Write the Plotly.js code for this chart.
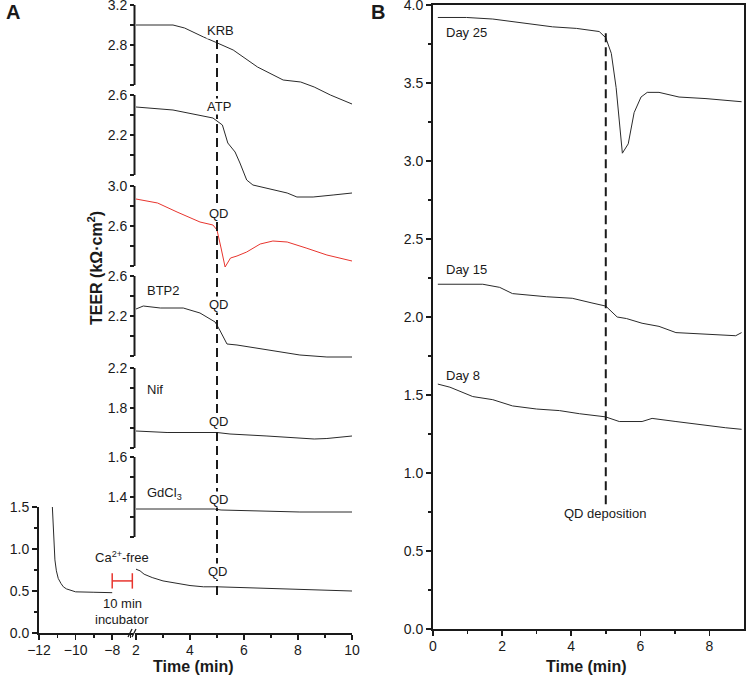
<!DOCTYPE html>
<html><head><meta charset="utf-8">
<script src="https://cdn.plot.ly/plotly-3.0.1.min.js"></script>
<style>html,body{margin:0;padding:0;background:#fff}</style>
</head><body><div id="chart" style="width:746px;height:676px"></div>
<script>
// ---------- Panel A data (time in min, TEER in kΩ·cm²) ----------
const timeKRB=[2,2.8,3.37,3.8,4.1,4.5,4.93,5.6,6.5,7.45,8.1,8.6,9.2,10];
const teerKRB=[3.0,3.0,3.0,2.97,2.93,2.88,2.83,2.75,2.58,2.45,2.43,2.38,2.30,2.21];
const timeATP=[2,3.37,4.85,5.0,5.2,5.4,5.67,5.85,6.04,6.1,6.33,6.85,7.6,7.96,8.56,9.3,10];
const teerATP=[2.48,2.45,2.37,2.34,2.30,2.12,2.03,1.92,1.80,1.75,1.70,1.67,1.62,1.58,1.58,1.60,1.62];
const timeQD=[2,2.8,3.52,4.37,4.85,5.0,5.15,5.3,5.5,5.74,6.1,6.6,7.07,7.6,8.3,9.07,10];
const teerQD=[2.87,2.83,2.74,2.64,2.61,2.56,2.38,2.19,2.28,2.30,2.34,2.42,2.45,2.44,2.38,2.31,2.25];
const timeBTP2=[2,2.27,2.9,3.75,4.37,4.93,5.1,5.37,5.74,6.85,8.07,9.07,10];
const teerBTP2=[2.27,2.30,2.28,2.28,2.23,2.14,2.06,1.92,1.91,1.86,1.81,1.79,1.79];
const timeNif=[2,3.15,5.0,5.48,6.85,8.19,8.6,9.07,10];
const teerNif=[1.57,1.555,1.555,1.54,1.52,1.50,1.49,1.495,1.52];
const timeGd=[2,4.9,5.15,6.5,8.07,10];
const teerGd=[1.34,1.34,1.335,1.33,1.325,1.325];
const timePre=[-11.27,-11.22,-11.13,-11.05,-10.95,-10.8,-10.67,-10.5,-10.3,-10.0,-9,-8];
const teerPre=[1.5,1.2,0.87,0.74,0.65,0.59,0.55,0.525,0.51,0.49,0.485,0.48];
const timeCa=[2,2.15,2.3,2.6,3,3.5,4,4.5,5,6,7,8,9,10];
const teerCa=[0.76,0.74,0.70,0.66,0.62,0.59,0.565,0.55,0.55,0.54,0.53,0.515,0.51,0.50];
const incubTime=[-8,-6.9];
const incubLevel=[0.62,0.62];
const qdTime=5;

// ---------- Panel B data ----------
const timeD25=[0.14,0.97,1.73,2.7,3.46,4.15,4.81,5.0,5.16,5.3,5.48,5.65,5.82,6.02,6.2,6.54,7.12,7.9,8.93];
const teerD25=[3.92,3.92,3.91,3.88,3.86,3.85,3.83,3.79,3.69,3.47,3.05,3.11,3.31,3.41,3.44,3.44,3.41,3.40,3.38];
const timeD15=[0.14,1.44,1.93,2.3,3.28,4.03,4.6,5.0,5.33,5.6,6.05,6.54,7.03,7.98,8.76,8.93];
const teerD15=[2.21,2.21,2.19,2.15,2.13,2.12,2.09,2.07,2.00,1.99,1.96,1.94,1.90,1.89,1.88,1.90];
const timeD8=[0.14,0.49,1.15,1.73,2.3,3.0,3.66,4.24,4.99,5.39,6.05,6.34,7.03,7.7,8.47,8.93];
const teerD8=[1.57,1.55,1.49,1.47,1.43,1.41,1.40,1.38,1.36,1.33,1.33,1.35,1.33,1.31,1.29,1.28];

// ---------- tick labels ----------
const tvKRB=[2.8,3.2], mvKRB=[2.4,2.6,3.0];
const tvATP=[2.2,2.6], mvATP=[1.8,2.0,2.4];
const tvQD=[2.6,3.0],  mvQD=[2.2,2.4,2.8];
const tvBTP=[2.2,2.6], mvBTP=[1.8,2.0,2.4];
const tvNif=[1.8,2.2], mvNif=[1.4,1.6,2.0];
const tvGd=[1.4,1.6],  mvGd=[1.2,1.3,1.5];
const tvBot=[0,0.5,1.0,1.5], ttBot=['0.0','0.5','1.0','1.5'];
const tvPre=[-12,-10,-8], ttPre=['\u221212','\u221210','\u22128'];
const tvPost=[2,4,6,8,10], ttPost=['2','4','6','8','10'];
const tvBx=[0,2,4,6,8], ttBx=['0','2','4','6','8'];
const tvBy=[0,0.5,1.0,1.5,2.0,2.5,3.0,3.5,4.0], ttBy=['0.0','0.5','1.0','1.5','2.0','2.5','3.0','3.5','4.0'];

// ---------- layout helpers ----------
const W=746,H=676;
const FONT='Liberation Sans, Arial, sans-serif';
const INK='#1a1a1a';
const px=v=>v/W, py=v=>1-v/H;

function stackedY(lo,hi,pyLo,pyHi,tv,mv,extTop,extBot){
  const k=(hi-lo)/(pyLo-pyHi);
  return {
    anchor:'x2', domain:[py(pyLo+extBot),py(pyHi-extTop)],
    range:[lo-extBot*k,hi+extTop*k], showline:false, showgrid:false, zeroline:false,
    tickmode:'array', tickvals:tv, ticktext:tv.map(v=>v.toFixed(1)), ticks:'outside', ticklen:4, tickwidth:1.5,
    tickcolor:INK, tickfont:{size:14,color:INK,family:FONT}, ticklabeloverflow:'allow',
    minor:{tickmode:'array',tickvals:mv,ticks:'outside',ticklen:4,tickwidth:1.5,tickcolor:INK}
  };
}
const panels=[
  {lo:2.4,hi:3.2,pyLo:85,pyHi:5,tv:tvKRB,mv:mvKRB},
  {lo:1.8,hi:2.6,pyLo:175,pyHi:95,tv:tvATP,mv:mvATP},
  {lo:2.2,hi:3.0,pyLo:266,pyHi:186,tv:tvQD,mv:mvQD},
  {lo:1.8,hi:2.6,pyLo:356,pyHi:276,tv:tvBTP,mv:mvBTP},
  {lo:1.4,hi:2.2,pyLo:448,pyHi:368,tv:tvNif,mv:mvNif},
  {lo:1.2,hi:1.6,pyLo:537,pyHi:457,tv:tvGd,mv:mvGd}
];

const axisX=135; // px of stacked axes
const common={showgrid:false,zeroline:false,tickmode:'array',ticks:'outside',ticklen:5,tickwidth:1.5,tickcolor:INK,
  showline:true,linewidth:2,linecolor:INK,tickfont:{size:14,color:INK},ticklabeloverflow:'allow'};
const minorT=(vals)=>({tickmode:'array',tickvals:vals,ticks:'outside',ticklen:3,tickwidth:1.5,tickcolor:INK});
const layout={
  width:W,height:H,margin:{l:0,r:0,t:0,b:0},
  paper_bgcolor:'#fff',plot_bgcolor:'rgba(0,0,0,0)',showlegend:false,
  font:{family:FONT,color:INK,size:14},
  xaxis:Object.assign({},common,{domain:[px(39),px(133)],range:[-12,-12+94/18.3],anchor:'y',
    tickvals:tvPre,ticktext:ttPre,ticklabelstandoff:-2,minor:minorT([-11,-9,-7])}),
  xaxis2:Object.assign({},common,{domain:[px(axisX),px(352)],range:[2-1/27,10],anchor:'y',
    tickvals:tvPost,ticktext:ttPost,ticklabelstandoff:-2,minor:minorT([3,5,7,9])}),
  yaxis:Object.assign({},common,{domain:[py(633),py(507)],range:[0,1.5],anchor:'x',
    tickvals:tvBot,ticktext:ttBot,minor:minorT([0.25,0.75,1.25])}),
  xaxis3:Object.assign({},common,{domain:[px(433),px(744)],range:[0,9],anchor:'y8',mirror:true,
    tickvals:tvBx,ticktext:ttBx,ticklabelstandoff:-2,minor:minorT([1,3,5,7])}),
  yaxis8:Object.assign({},common,{domain:[py(629),py(5)],range:[0,4],anchor:'x3',mirror:true,
    tickvals:tvBy,ticktext:ttBy,minor:minorT([0.25,0.75,1.25,1.75,2.25,2.75,3.25,3.75])}),
  shapes:[],annotations:[]
};
panels.forEach((p,i)=>{
  layout['yaxis'+(i+2)]=stackedY(p.lo,p.hi,p.pyLo,p.pyHi,p.tv,p.mv,4,30);
  layout.shapes.push({type:'line',xref:'paper',yref:'y'+(i+2),x0:px(axisX-0.5),x1:px(axisX-0.5),y0:p.lo,y1:p.hi,
    line:{color:INK,width:2}});
});
// QD deposition dashed lines
layout.shapes.push({type:'line',xref:'x2',yref:'paper',x0:qdTime,x1:qdTime,y0:py(595),y1:py(40),line:{color:INK,width:2,dash:'9px,5px'}});
layout.shapes.push({type:'line',xref:'x3',yref:'y8',x0:qdTime,x1:qdTime,y0:0.8,y1:3.83,line:{color:INK,width:2,dash:'9px,5px'}});
// axis break marks
layout.shapes.push({type:'line',xref:'paper',yref:'paper',x0:px(128),x1:px(132),y0:py(637),y1:py(629),line:{color:INK,width:1.2}});
layout.shapes.push({type:'line',xref:'paper',yref:'paper',x0:px(132),x1:px(136),y0:py(637),y1:py(629),line:{color:INK,width:1.2}});

function ann(text,x,y,opt){
  return Object.assign({text:text,xref:'paper',yref:'paper',x:px(x),y:py(y),showarrow:false,
    xanchor:'center',yanchor:'middle',font:{size:13,color:INK,family:FONT}},opt||{});
}
const wbg={bgcolor:'#fff',borderpad:0};
layout.annotations.push(
  ann('<b>A</b>',13,12,{font:{size:20,color:INK,family:FONT}}),
  ann('<b>B</b>',378,12,{font:{size:20,color:INK,family:FONT}}),
  ann('KRB',221,30,wbg),
  ann('ATP',219,107,wbg),
  ann('QD',219,213,wbg),
  ann('BTP2',145,290,{xanchor:'left'}),
  ann('QD',219,305,wbg),
  ann('Nif',145,390,{xanchor:'left'}),
  ann('QD',219,421,wbg),
  ann('GdCl<sub>3</sub>',145,493,{xanchor:'left'}),
  ann('QD',219,499,wbg),
  ann('QD',218,571,wbg),
  ann('Ca<sup>2+</sup>-free',122,557),
  ann('10 min',122,603),
  ann('incubator',122,619),
  ann('<b>TEER (kΩ·cm<sup>2</sup>)</b>',95,268,{textangle:-90,font:{size:16,color:INK,family:FONT}}),
  ann('<b>Time (min)</b>',193,666,{font:{size:16,color:INK,family:FONT}}),
  ann('<b>Time (min)</b>',586,666,{font:{size:16,color:INK,family:FONT}}),
  ann('Day 25',444,33,{xanchor:'left'}),
  ann('Day 15',444,270,{xanchor:'left'}),
  ann('Day 8',444,376,{xanchor:'left'}),
  ann('QD deposition',605,513)
);

const ln=(c)=>({color:c||'#2a2a2a',width:1});
const traces=[
  {x:timeKRB,y:teerKRB,xaxis:'x2',yaxis:'y2',mode:'lines',line:ln()},
  {x:timeATP,y:teerATP,xaxis:'x2',yaxis:'y3',mode:'lines',line:ln()},
  {x:timeQD,y:teerQD,xaxis:'x2',yaxis:'y4',mode:'lines',line:ln('#e8352e')},
  {x:timeBTP2,y:teerBTP2,xaxis:'x2',yaxis:'y5',mode:'lines',line:ln()},
  {x:timeNif,y:teerNif,xaxis:'x2',yaxis:'y6',mode:'lines',line:ln()},
  {x:timeGd,y:teerGd,xaxis:'x2',yaxis:'y7',mode:'lines',line:ln()},
  {x:timePre,y:teerPre,xaxis:'x',yaxis:'y',mode:'lines',line:ln()},
  {x:timeCa,y:teerCa,xaxis:'x2',yaxis:'y',mode:'lines',line:ln()},
  {x:incubTime,y:incubLevel,xaxis:'x',yaxis:'y',mode:'lines+markers',cliponaxis:false,line:{color:'#e8352e',width:1.5},
    marker:{symbol:'line-ns-open',size:11,color:'#e8352e',line:{color:'#e8352e',width:1.5}}},
  {x:timeD25,y:teerD25,xaxis:'x3',yaxis:'y8',mode:'lines',line:ln()},
  {x:timeD15,y:teerD15,xaxis:'x3',yaxis:'y8',mode:'lines',line:ln()},
  {x:timeD8,y:teerD8,xaxis:'x3',yaxis:'y8',mode:'lines',line:ln()}
];
Plotly.newPlot('chart',traces,layout,{staticPlot:true,displayModeBar:false});
</script></body></html>
